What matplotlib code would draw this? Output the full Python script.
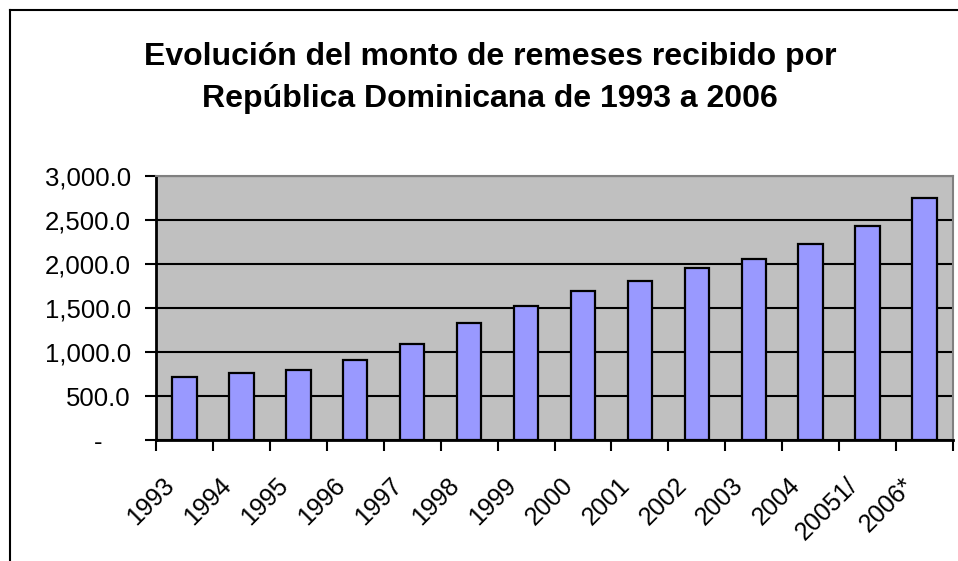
import matplotlib
matplotlib.use("Agg")
import matplotlib.pyplot as plt
import matplotlib.transforms as mtransforms
from matplotlib.lines import Line2D
from matplotlib.ticker import FuncFormatter

plt.rcParams['font.family'] = ['Liberation Sans', 'DejaVu Sans']

years = ["1993", "1994", "1995", "1996", "1997", "1998", "1999", "2000",
         "2001", "2002", "2003", "2004", "20051/", "2006*"]
remesas = [720.8, 757.3, 794.5, 914.4, 1089.0, 1326.1, 1518.7, 1688.7,
           1807.0, 1959.5, 2060.5, 2230.0, 2429.6, 2747.6]
title = "Evolución del monto de remeses recibido por\nRepública Dominicana de 1993 a 2006"
yticks = [0, 500, 1000, 1500, 2000, 2500, 3000]

W, H = 958, 561
fig = plt.figure(figsize=(W / 100, H / 100), dpi=100)
fig.patch.set_facecolor('white')

# chart frame
fig.add_artist(Line2D([10 / W, 1.0], [1 - 10 / H, 1 - 10 / H], transform=fig.transFigure,
                      color='black', lw=1.5))
fig.add_artist(Line2D([10 / W, 10 / W], [0, 1 - 10 / H], transform=fig.transFigure,
                      color='black', lw=1.5))

left, right, top, bottom = 156, 953, 176, 440
ax = fig.add_axes([left / W, 1 - bottom / H, (right - left) / W, (bottom - top) / H])
ax.set_facecolor('#C0C0C0')

x = list(range(len(years)))
ax.bar(x, remesas, width=0.43, color='#9999FF', edgecolor='black', linewidth=1.6, zorder=3)

ax.set_xlim(-0.5, len(years) - 0.5)
ax.set_ylim(0, 3000)
ax.set_yticks(yticks)
ax.yaxis.set_major_formatter(FuncFormatter(lambda v, p: '-    ' if v == 0 else f'{v:,.1f}'))
ax.grid(axis='y', color='black', linewidth=1.5, zorder=1)
ax.set_axisbelow(True)

# boundaries ticks (major) and labels at centers (minor)
ax.set_xticks([i - 0.5 for i in range(len(years) + 1)])
ax.set_xticklabels([])
ax.set_xticks(x, minor=True)
ax.set_xticklabels(years, minor=True, rotation=45, ha='right', va='center',
                   rotation_mode='anchor', fontsize=18)
ax.tick_params(axis='x', which='minor', length=0, pad=30)
ax.tick_params(axis='x', which='major', length=8, width=1.5, direction='out')
ax.tick_params(axis='y', length=8, width=1.5, direction='out', labelsize=18.5, pad=10)
offset = mtransforms.ScaledTranslation(-14 / 100, 0, fig.dpi_scale_trans)
for lab in ax.xaxis.get_minorticklabels():
    lab.set_transform(lab.get_transform() + offset)

for s in ['top', 'right']:
    ax.spines[s].set_color('#808080')
    ax.spines[s].set_linewidth(1.5)
for s in ['left', 'bottom']:
    ax.spines[s].set_color('black')
    ax.spines[s].set_linewidth(2)

fig.text(490 / W, 1 - 78 / H, title, ha='center', va='center', fontsize=23,
         fontweight='bold', linespacing=1.5)

fig.savefig('out.png', dpi=100)
